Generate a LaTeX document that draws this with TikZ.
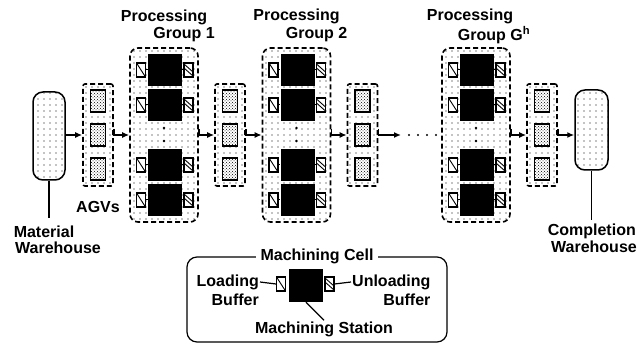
\documentclass[tikz,border=0pt]{standalone}
\usepackage{fontspec}
\setmainfont{Liberation Sans}
\usetikzlibrary{patterns,patterns.meta,arrows.meta,calc}

% coarse grid of specks used for warehouses, groups and AGV bays
\tikzdeclarepattern{
  name=sparsedots,
  bottom left={(-1pt,-1pt)},
  top right={(5pt,5pt)},
  tile size={(6pt,6pt)},
  code={\fill (2pt,2pt) circle (0.6pt);}
}

\tikzset{
  lbl/.style={font=\bfseries\fontsize{16}{18}\selectfont, inner sep=1pt},
  dashbox/.style={draw, line width=1.6pt, dash pattern=on 5pt off 3pt,
    fill=white, postaction={pattern=sparsedots}, inner sep=0pt},
  grp/.style={dashbox, rounded corners=8pt},
  bay/.style={dashbox, rounded corners=2pt},
  store/.style={draw, line width=1.5pt, rounded corners=10pt, fill=white,
    postaction={pattern=sparsedots}, inner sep=0pt},
  agv/.style={draw, line width=1.5pt, preaction={fill=white},
    pattern=crosshatch dots, minimum width=15pt, minimum height=22pt, inner sep=0pt},
  mach/.style={fill=black, minimum width=34pt, minimum height=32pt, inner sep=0pt},
  bufbase/.style={draw, line width=1.1pt, fill=white, minimum width=9pt,
    minimum height=14pt, inner sep=0pt},
  lbuf/.style={bufbase, path picture={\draw[line width=0.9pt]
    (path picture bounding box.north west) -- (path picture bounding box.south east);}},
  ubuf/.style={bufbase, path picture={\draw[line width=0.9pt]
    ([yshift=-1pt]path picture bounding box.north west) -- ([yshift=5pt]path picture bounding box.south east)
    ([yshift=-5pt]path picture bounding box.north west) -- ([yshift=1pt]path picture bounding box.south east);}},
  arr/.style={line width=1.4pt, -{Latex[length=7pt,width=6pt]}},
  lead/.style={line width=1.2pt},
  dotrun/.style={line width=2.2pt, line cap=round, dash pattern=on 0pt off 9pt},
}

% one processing group: #1 name, #2 centre x
\newcommand\drawgroup[2]{%
  \node[grp, minimum width=68pt, minimum height=174pt] (#1) at (#2,135) {};
  \foreach \row/\yy in {1/70,2/105,3/165,4/200}{
    \node[mach] (#1m\row) at (#2+1,\yy) {};
    \node[lbuf] (#1l\row) at (#2-23,\yy) {};
    \node[ubuf] (#1u\row) at (#2+24.5,\yy) {};
    \draw[line width=1pt] (#1l\row) -- (#1m\row) (#1m\row) -- (#1u\row);
  }
  \fill (#2,128) circle (1.3pt) (#2,141) circle (1.3pt);
}

% one AGV bay with three vehicles: #1 name, #2 centre x
\newcommand\drawagvs[2]{%
  \node[bay, minimum width=30pt, minimum height=102pt] (#1) at (#2,135) {};
  \foreach \row/\yy in {1/101,2/135,3/169}{
    \node[agv] (#1a\row) at (#2,\yy) {};
  }
}

\begin{document}
\begin{tikzpicture}[x=1pt,y=-1pt]
\fill[white] (0,0) rectangle (640,347);
\useasboundingbox (0,0) rectangle (640,347);

% warehouses
\node[store, minimum width=32pt, minimum height=88pt] (mw) at (49,136) {};
\node[store, minimum width=33pt, minimum height=80pt] (cw) at (591.5,130) {};

% AGV bays and processing groups
\drawagvs{a1}{98}
\drawgroup{g1}{164}
\drawagvs{a2}{230}
\drawgroup{g2}{296.5}
\drawagvs{a3}{362.5}
\drawgroup{gh}{476}
\drawagvs{a4}{542}

% material flow
\draw[arr] (mw.east |- a1.west) -- (a1.west);
\draw[arr] ([yshift=6pt]a1.east) -- (a1.east) -- (g1.west);
\draw[arr] ([yshift=6pt]g1.east) -- (g1.east) -- (a2.west);
\draw[arr] ([yshift=6pt]a2.east) -- (a2.east) -- (g2.west);
\draw[arr] ([yshift=6pt]g2.east) -- (g2.east) -- (a3.west);
\coordinate (dA) at (401,135);
\coordinate (dB) at (409,135);
\draw[arr] ([yshift=6pt]a3.east) -- (a3.east) -- (dA);
\draw[dotrun] (dB) -- (gh.west);
\draw[arr] ([yshift=6pt]gh.east) -- (gh.east) -- (a4.west);
\draw[arr] ([yshift=6pt]a4.east) -- (a4.east) -- (a4.east -| cw.west);

% group titles
\node[lbl] at (164,17) {Processing};
\node[lbl] at (184,35) {Group 1};
\node[lbl] at (296.5,16) {Processing};
\node[lbl] at (316.5,35) {Group 2};
\node[lbl] at (470,16) {Processing};
\node[lbl] at (494,35) {Group G\textsuperscript{h}};

% AGV label
\node[lbl] at (98,207) {AGVs};

% warehouse captions
\coordinate (mwl) at (49,218);
\draw[lead] (mw.south) -- (mwl);
\node[lbl] at (44,232) {Material};
\node[lbl] at (58,248) {Warehouse};
\coordinate (cwl) at (591.5,220);
\draw[lead] (cw.south) -- (cwl);
\node[lbl, anchor=east] at (637,231) {Completion};
\node[lbl, anchor=east] at (638,247) {Warehouse};

% legend: machining cell
\node[draw, line width=1.2pt, rounded corners=10pt, minimum width=260pt,
  minimum height=85pt, inner sep=0pt] (cell) at (317,299.5) {};
\node[lbl, fill=white, inner xsep=5pt] at (cell.north) {Machining Cell};
\node[mach, minimum height=33pt] (cm) at (306,285.5) {};
\node[lbuf] (clb) at (281,284) {};
\node[ubuf] (cub) at (329.5,284) {};
\node[lbl, anchor=east] (ld) at (260,282) {Loading};
\node[lbl, anchor=east] at (260,300) {Buffer};
\node[lbl, anchor=west] (ul) at (351,282) {Unloading};
\node[lbl, anchor=east] at ([yshift=-18pt]ul.east) {Buffer};
\node[lbl] (ms) at (324,329) {Machining Station};
\draw[lead] (clb.west) -- (ld.east);
\draw[lead] (cub.east) -- (ul.west);
\draw[lead] (cm.south) -- (ms.north);
\end{tikzpicture}
\end{document}
